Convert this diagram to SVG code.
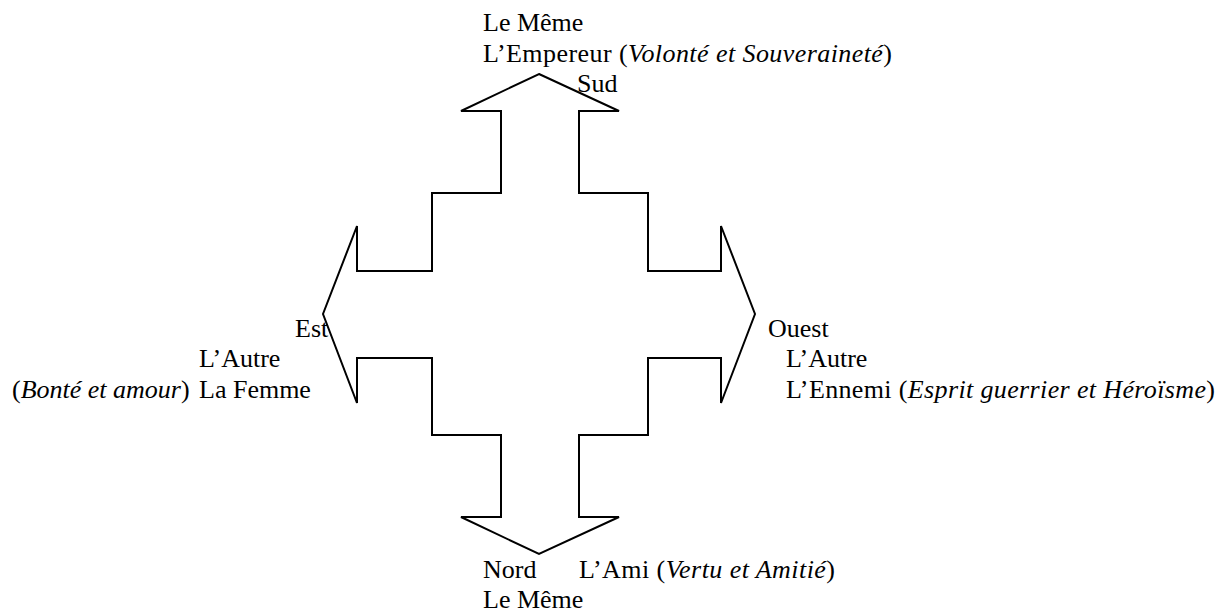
<svg xmlns="http://www.w3.org/2000/svg" width="1227" height="614" viewBox="0 0 1227 614">
<style>
.t{font-family:"Liberation Serif","Times New Roman",serif;font-size:26px;fill:#000}
.i{font-style:italic}
.shape{fill:none;stroke:#000;stroke-width:2;stroke-linejoin:miter}
</style>
<rect width="1227" height="614" fill="#fff"/>
<g id="cross">
<polygon class="shape" points="539,74 619,111 579,111 579,193 648,193 648,271 721,271 721,226 755,314 721,403 721,358 648,358 648,435 579,435 579,517 619,517 539,554 461,517 501,517 501,435 432,435 432,358 357,358 357,403 323,314 357,226 357,271 432,271 432,193 501,193 501,111 461,111"/>
</g>
<g id="sud">
<text class="t" x="483" y="31">Le Même</text>
<text class="t" x="483" y="62" textLength="409" lengthAdjust="spacing">L’Empereur (<tspan class="i">Volonté et Souveraineté</tspan>)</text>
<text class="t" x="577" y="92">Sud</text>
</g>
<g id="est">
<text class="t" x="295" y="337">Est</text>
<text class="t" x="199" y="367">L’Autre</text>
<text class="t" x="12" y="398">(<tspan class="i">Bonté et amour</tspan>)</text>
<text class="t" x="199" y="398">La Femme</text>
</g>
<g id="ouest">
<text class="t" x="768" y="337">Ouest</text>
<text class="t" x="786" y="367">L’Autre</text>
<text class="t" x="786" y="398" textLength="429" lengthAdjust="spacing">L’Ennemi (<tspan class="i">Esprit guerrier et Héroïsme</tspan>)</text>
</g>
<g id="nord">
<text class="t" x="483" y="578">Nord</text>
<text class="t" x="579" y="578" textLength="256" lengthAdjust="spacing">L’Ami (<tspan class="i">Vertu et Amitié</tspan>)</text>
<text class="t" x="483" y="608">Le Même</text>
</g>
<g id="connectors"></g>
</svg>
